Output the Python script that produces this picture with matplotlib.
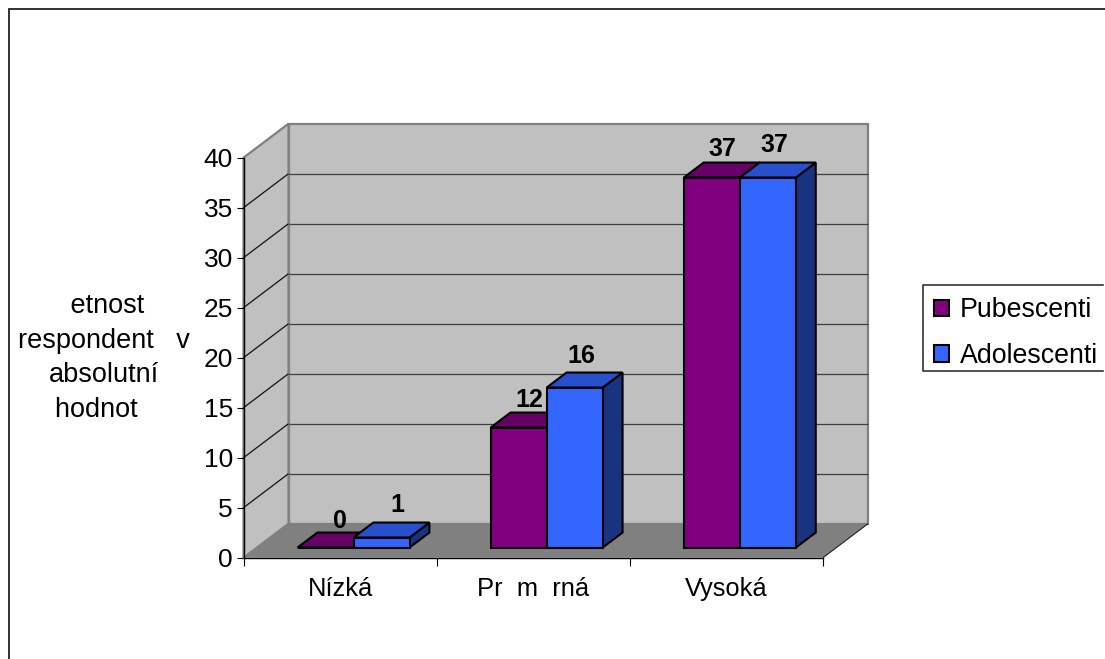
import matplotlib
matplotlib.use('Agg')
import matplotlib.pyplot as plt
from matplotlib.lines import Line2D
from matplotlib.patches import Polygon, Rectangle
from matplotlib.transforms import Affine2D, IdentityTransform

plt.rcParams['font.family'] = ['Liberation Sans', 'DejaVu Sans']

categories = ['Nízká', 'Pr  m  rná', 'Vysoká']
pubescenti = [0, 12, 37]
adolescenti = [1, 16, 37]
y_ticks = [0, 5, 10, 15, 20, 25, 30, 35, 40]
y_title = ' etnost\nrespondent   v\nabsolutní\nhodnot  '

W, H = 1105, 659
DEPTH_X, DEPTH_Y = 45, 34      # pixel offset from front plane to back wall
BAR_FRONT, BAR_BACK = 0.3, 0.74  # bar depth, fraction of the floor
BAR_W = 0.29
FS = 18

fig = plt.figure(figsize=(W / 100, H / 100), dpi=100, facecolor='white')
ax = fig.add_axes([243.5 / W, (H - 557.7) / H, 579.5 / W, 400 / H])
ax.set_xlim(0, 3)
ax.set_ylim(0, 40)
ax.patch.set_visible(False)
for s in ['top', 'right']:
    ax.spines[s].set_visible(False)
for s in ['left', 'bottom']:
    ax.spines[s].set_linewidth(1.0)
    ax.spines[s].set_zorder(2.5)


def pts(*corners):
    # (x, y, depth) -> display pixels
    out = []
    for x, y, d in corners:
        px, py = ax.transData.transform((x, y))
        out.append((px + d * DEPTH_X, py + d * DEPTH_Y))
    return out


def face(corners, color, edge='none', lw=0, z=1):
    ax.add_patch(Polygon(pts(*corners), closed=True, facecolor=color, edgecolor=edge,
                         linewidth=lw, transform=IdentityTransform(), clip_on=False,
                         zorder=z, joinstyle='miter'))


def seg(a, b, color, lw, z=1.5):
    (x0, y0), (x1, y1) = pts(a, b)
    ax.plot([x0, x1], [y0, y1], color=color, lw=lw, transform=IdentityTransform(),
            clip_on=False, zorder=z, solid_capstyle='butt')


top = y_ticks[-1]
# walls and floor
face([(0, 0, 1), (3, 0, 1), (3, top, 1), (0, top, 1)], '#C0C0C0', '#808080', 1.6)
face([(0, 0, 0), (0, 0, 1), (0, top, 1), (0, top, 0)], '#C0C0C0', '#808080', 1.6)
for v in y_ticks[1:-1]:
    seg((0, v, 1), (3, v, 1), '#404040', 0.9)
    seg((0, v, 0), (0, v, 1), '#101010', 0.9)
face([(0, 0, 0), (3, 0, 0), (3, 0, 1), (0, 0, 1)], '#808080', z=2)
seg((3, 0, 0), (3, 0, 1), '#202020', 0.8, z=2.1)

# bars
series = [(pubescenti, '#800080', '#660066', '#400040', -BAR_W / 2, 'Pubescenti', [(14, 26), (11, 28), (10.5, 29)]),
          (adolescenti, '#3366FF', '#2850CC', '#1A3380', BAR_W / 2, 'Adolescenti', [(15.5, 33), (7, 32), (6, 33)])]
front_shift = ax.transData + Affine2D().translate(BAR_FRONT * DEPTH_X, BAR_FRONT * DEPTH_Y)
xs = [i + 0.5 for i in range(len(categories))]
handles = []
zz = 3
for vals, col, col_top, col_side, off, name, nudges in series:
    for x, v, (nx, ny) in zip(xs, vals, nudges):
        l, r = x + off - BAR_W / 2, x + off + BAR_W / 2
        face([(r, 0, BAR_FRONT), (r, 0, BAR_BACK), (r, v, BAR_BACK), (r, v, BAR_FRONT)],
             col_side, 'black', 1.5, z=zz)
        face([(l, v, BAR_FRONT), (r, v, BAR_FRONT), (r, v, BAR_BACK), (l, v, BAR_BACK)],
             col_top, 'black', 1.5, z=zz)
        b = ax.bar(x + off, v, BAR_W, color=col, edgecolor='black', linewidth=1.5,
                   transform=front_shift, clip_on=False, zorder=zz + 0.1)
        (px, py), = pts((x + off, v, BAR_FRONT))
        ax.text(px + nx, py + ny, str(v), transform=IdentityTransform(), ha='center',
                va='center', fontsize=FS, fontweight='bold', zorder=6)
        zz += 0.2
    handles.append(Rectangle((0, 0), 1, 1, facecolor=col, edgecolor='black', linewidth=1.5, label=name))

# axes ticks
ax.set_yticks(y_ticks)
ax.tick_params(axis='y', length=4.7, width=0.8, labelsize=19, pad=3)
ax.set_xticks(range(len(categories) + 1))
ax.set_xticklabels([])
ax.tick_params(axis='x', which='major', length=5.5, width=0.8)
ax.set_xticks(xs, minor=True)
ax.set_xticklabels(categories, minor=True, fontsize=18.4)
ax.tick_params(axis='x', which='minor', length=0, pad=14)

fig.text(103.5 / W, (H - 358) / H, y_title, ha='center', va='center', fontsize=19.5,
         linespacing=1.44)

# legend, frame open on the right as the picture cuts it off
fig.add_artist(Line2D([1103 / W, 923 / W, 923 / W, 1103 / W],
                      [(H - 284.5) / H, (H - 284.5) / H, (H - 371) / H, (H - 371) / H],
                      color='#222222', lw=1.1, transform=fig.transFigure))
fig.legend(handles=handles, loc='upper left', bbox_to_anchor=(923 / W, (H - 286) / H),
           borderaxespad=0, fontsize=19.3, frameon=False,
           handlelength=0.56, handleheight=0.56, handletextpad=0.38, borderpad=0.42,
           labelspacing=0.74)

# chart area border, only left and top show in the picture
fig.add_artist(Rectangle((8.5 / W, -1), 2, 2 - 8.5 / H, transform=fig.transFigure, fill=False,
                         edgecolor='#222222', linewidth=1.3))

fig.savefig('out.png', dpi=100)
